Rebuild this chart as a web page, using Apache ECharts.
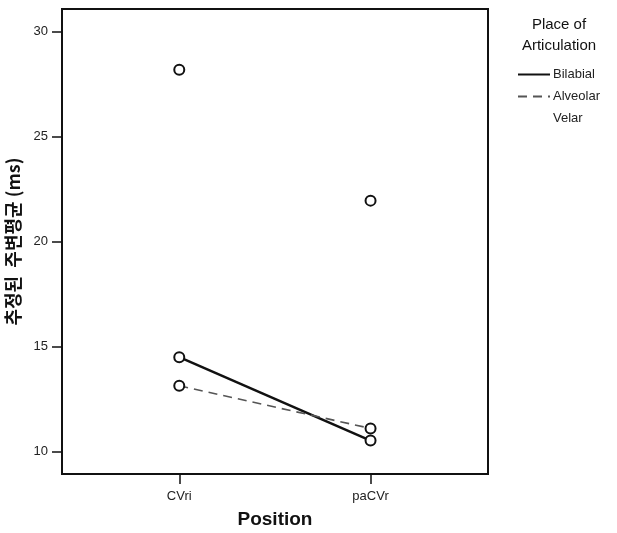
<!DOCTYPE html>
<html>
<head>
<meta charset="utf-8">
<script src="https://cdn.jsdelivr.net/npm/echarts@6/dist/echarts.min.js"></script>
<style>
html,body{margin:0;padding:0;background:#fff;}
#chart{width:617px;height:533px;}
</style>
</head>
<body>
<div id="chart"></div>
<script>
// Data
const categories = ['CVri', 'paCVr'];
const seriesNames = ['Bilabial', 'Alveolar', 'Velar'];
const bilabial = [14.5, 10.53];
const alveolar = [13.14, 11.11];
const velar = [28.18, 21.95];
const yTicks = [10, 15, 20, 25, 30];
const legendTitle = 'Place of\nArticulation';
const xTitle = 'Position';
const yTitle = '추정된  주변평균 (ms)';

const toPairs = arr => arr.map((v, i) => [i, v]);
const font = '"Liberation Sans", Arial, sans-serif';

const chart = echarts.init(document.getElementById('chart'), null, {renderer: 'canvas'});
const marker = {
  symbol: 'emptyCircle',
  symbolSize: 10,
  itemStyle: {color: '#111', borderColor: '#111', borderWidth: 1.8}
};
chart.setOption({
  animation: false,
  backgroundColor: '#fff',
  grid: {left: 62, top: 9, width: 426, height: 465, show: false, containLabel: false, outerBoundsMode: 'none'},
  xAxis: {
    type: 'value',
    min: -0.613,
    max: 1.614,
    splitLine: {show: false},
    axisLine: {show: false, onZero: false},
    axisTick: {show: true, customValues: [0, 1], length: 10, lineStyle: {color: '#111', width: 1.5}},
    axisLabel: {
      customValues: [0, 1],
      formatter: v => categories[Math.round(v)],
      color: '#222', fontSize: 13, fontFamily: font, margin: 16
    },
    name: xTitle,
    nameLocation: 'middle',
    nameGap: 36,
    nameTextStyle: {fontSize: 19, fontWeight: 'bold', color: '#111', fontFamily: font}
  },
  yAxis: {
    type: 'value',
    min: 8.94,
    max: 31.07,
    splitLine: {show: false},
    axisLine: {show: false, onZero: false},
    axisTick: {show: true, customValues: yTicks, length: 10, lineStyle: {color: '#111', width: 1.5}},
    axisLabel: {customValues: yTicks, color: '#222', fontSize: 13, fontFamily: font, margin: 14},
    name: yTitle,
    nameLocation: 'middle',
    nameGap: 33,
    nameRotate: 90,
    nameTextStyle: {fontSize: 18, fontWeight: 'bold', color: '#111', fontFamily: '"Noto Sans CJK KR", sans-serif'}
  },
  legend: {
    orient: 'vertical',
    left: 512,
    top: 63,
    itemWidth: 32,
    itemHeight: 12,
    itemGap: 9,
    itemStyle: {opacity: 0},
    textStyle: {fontSize: 13, color: '#222', fontFamily: font, padding: [0, 0, 0, -2]},
    data: seriesNames
  },
  graphic: [{
    type: 'text',
    x: 559,
    y: 14,
    style: {
      text: legendTitle,
      align: 'center',
      verticalAlign: 'top',
      font: '15px "Liberation Sans", Arial, sans-serif',
      lineHeight: 21,
      fill: '#111'
    }
  }, {
    type: 'rect',
    shape: {x: 62, y: 9, width: 426, height: 465},
    style: {fill: 'none', stroke: '#111', lineWidth: 2},
    z: 0
  }],
  series: [{
    name: seriesNames[0], type: 'line', data: toPairs(bilabial), ...marker,
    lineStyle: {color: '#111', width: 2.5, type: 'solid'}
  }, {
    name: seriesNames[1], type: 'line', data: toPairs(alveolar), ...marker,
    lineStyle: {color: '#555', width: 1.6, type: [9, 6]}
  }, {
    name: seriesNames[2], type: 'line', data: toPairs(velar), ...marker,
    lineStyle: {color: '#fff', width: 1, opacity: 0}
  }]
});
</script>
</body>
</html>
